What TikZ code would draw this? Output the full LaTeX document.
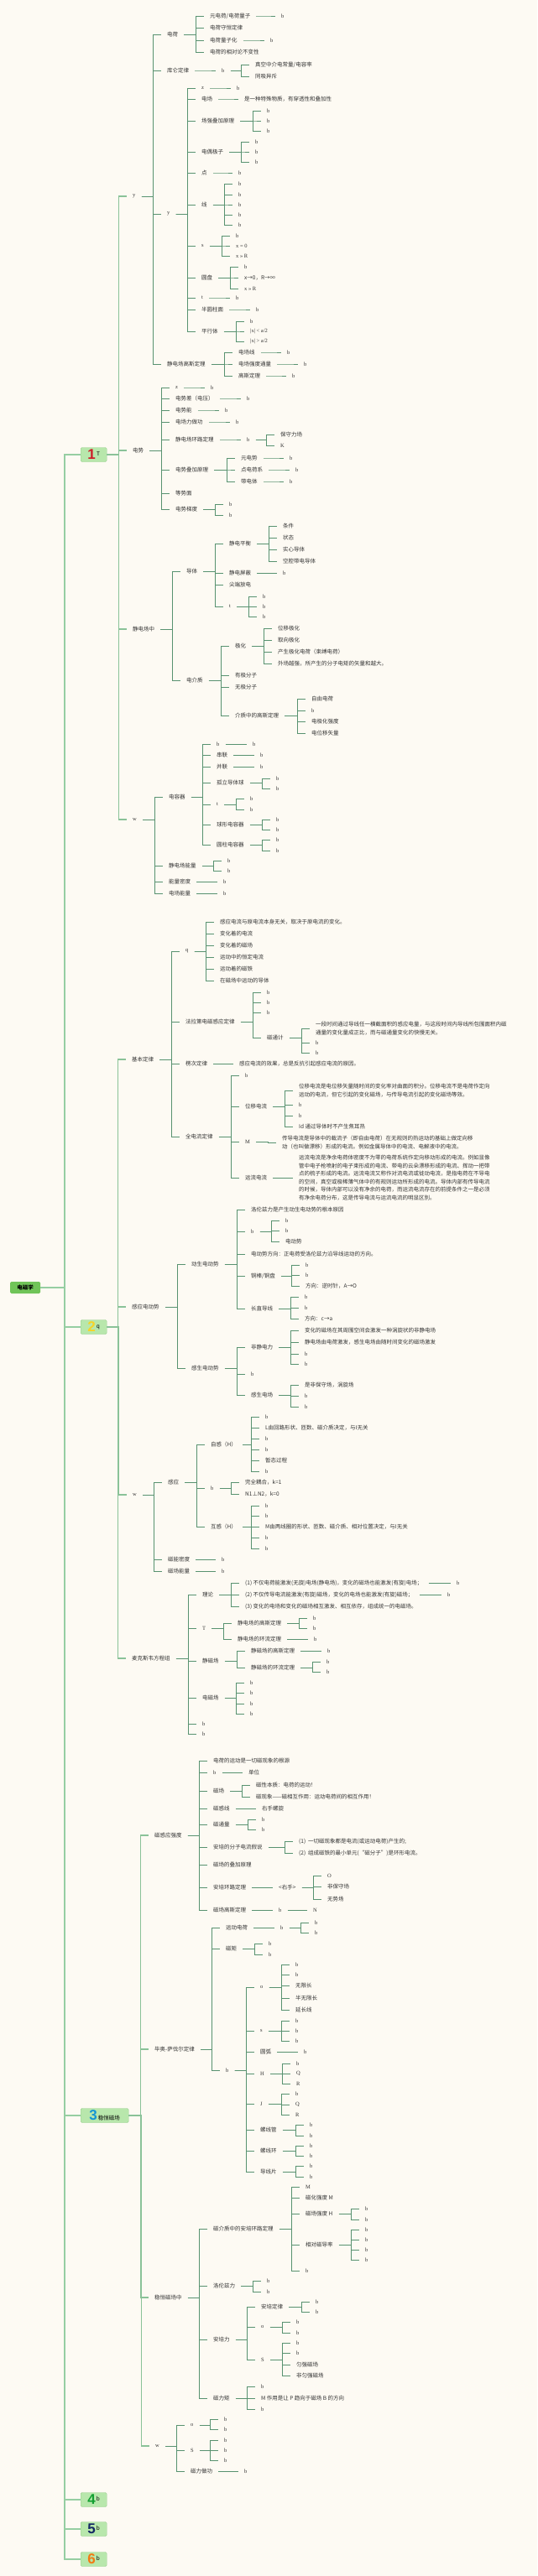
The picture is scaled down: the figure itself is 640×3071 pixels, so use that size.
\documentclass[tikz,border=0pt]{standalone}
\usepackage{fontspec}
\setmainfont{Liberation Serif}
\newfontfamily\cjk{Noto Sans CJK SC}
\newfontfamily\hei{Liberation Sans}
\definecolor{bg}{RGB}{253,250,243}
\definecolor{trunk}{RGB}{150,206,162}
\definecolor{link}{RGB}{88,146,112}
\definecolor{boxfill}{RGB}{184,231,172}
\definecolor{boxline}{RGB}{150,206,140}
\definecolor{rootfill}{RGB}{112,196,88}
\definecolor{red1}{RGB}{205,30,40}
\definecolor{yel}{RGB}{246,212,40}
\definecolor{blu}{RGB}{20,150,212}
\definecolor{grn}{RGB}{20,160,50}
\definecolor{nav}{RGB}{20,40,100}
\definecolor{org}{RGB}{242,122,20}
\tikzset{
  nd/.style={anchor=west, inner xsep=7pt, inner ysep=0.5pt, xshift=-7pt,
    text=black!80, font=\cjk\fontsize{6.5}{9.5}\selectfont},
  lt/.style={nd, font=\fontsize{6.5}{8}\selectfont},
  ml/.style={nd, align=left},
  lk/.style={draw=link, line width=0.9pt},
  lk1/.style={draw=trunk!80!link, line width=1.1pt},
  lk0/.style={draw=trunk, line width=1.5pt},
  chap/.style={anchor=west, fill=boxfill, draw=boxline, rounded corners=1.5pt,
    minimum width=31pt, minimum height=17pt, inner xsep=2pt, inner ysep=0pt,
    font=\cjk\fontsize{6.5}{7}\selectfont},
  root/.style={anchor=west, fill=rootfill, rounded corners=1.5pt, minimum width=36pt,
    minimum height=14pt, inner sep=0pt, font=\cjk\bfseries\fontsize{6.5}{7}\selectfont}
}
% 父节点 #2 连到子节点 #2a, #2b, ...
\newcommand\kids[3][lk]{\foreach \kk in {#3}{\draw[#1] (#2.east) -| ([xshift=-9.5pt]#2\kk.west) -- (#2\kk.west);}}
\newcommand\dg[2]{{\hei\bfseries\fontsize{17}{17}\selectfont\textcolor{#1}{#2}}}
\begin{document}
\begin{tikzpicture}[x=1pt, y=-1pt]
  \fill[bg] (0,0) rectangle (640,3071);
  \useasboundingbox (0,0) rectangle (640,3071);
  % 中心主题与各章
  \node[root] (r) at (12,1535) {电磁学};
  \node[chap] (c1) at (96,542) {\dg{red1}{1}\,\raisebox{4pt}{T}};
  \node[chap] (c2) at (96,1582) {\dg{yel}{2}\,\raisebox{4pt}{q}};
  \node[chap, minimum width=57pt] (c3) at (96,2522) {\dg{blu}{3}\,稳恒磁场};
  \node[chap] (c4) at (96,2980) {\dg{grn}{4}\,\raisebox{4pt}{b}};
  \node[chap] (c5) at (96,3015) {\dg{nav}{5}\,\raisebox{4pt}{b}};
  \node[chap] (c6) at (96,3051) {\dg{org}{6}\,\raisebox{4pt}{b}};
  \foreach \c in {1,...,6}{\draw[lk0] (r.east) -| ([xshift=-19pt]c\c.west) -- (c\c.west);}

  % 第一章
  \node[lt] (c1a) at (158,234) {y};
  \node[nd] (c1b) at (158,537) {电势};
  \node[nd] (c1c) at (158,750) {静电场中};
  \node[lt] (c1d) at (158,977) {w};
  \node[nd] (c1aa) at (199,41) {电荷};
  \node[nd] (c1ab) at (199,84) {库仑定律};
  \node[lt] (c1ac) at (199,255) {y};
  \node[nd] (c1ad) at (199,434) {静电场高斯定理};
  \node[nd] (c1aaa) at (250,19) {元电荷/电荷量子};
  \node[nd] (c1aab) at (250,33) {电荷守恒定律};
  \node[nd] (c1aac) at (250,48) {电荷量子化};
  \node[nd] (c1aad) at (250,62) {电荷的相对论不变性};
  \node[lt] (c1aaaa) at (335,19) {b};
  \node[lt] (c1aaca) at (322,48) {b};
  \node[lt] (c1aba) at (264,84) {b};
  \node[nd] (c1abaa) at (304,77) {真空中介电常量/电容率};
  \node[nd] (c1abab) at (304,91) {同吸异斥};
  \node[lt] (c1aca) at (240,105) {z};
  \node[nd] (c1acb) at (240,118) {电场};
  \node[nd] (c1acc) at (240,144) {场强叠加原理};
  \node[nd] (c1acd) at (240,181) {电偶极子};
  \node[nd] (c1ace) at (240,206) {点};
  \node[nd] (c1acf) at (240,244) {线};
  \node[lt] (c1acg) at (240,293) {s};
  \node[nd] (c1ach) at (240,331) {圆盘};
  \node[lt] (c1aci) at (240,355) {t};
  \node[nd] (c1acj) at (240,369) {半圆柱面};
  \node[nd] (c1ack) at (240,395) {平行体};
  \node[lt] (c1acaa) at (282,105) {b};
  \node[nd] (c1acba) at (291,118) {是一种特殊物质，有穿透性和叠加性};
  \foreach \n/\y in {a/132,b/144,c/156}{\node[lt] (c1acc\n) at (318,\y) {b};}
  \foreach \n/\y in {a/169,b/181,c/193}{\node[lt] (c1acd\n) at (304,\y) {b};}
  \node[lt] (c1acea) at (284,206) {b};
  \foreach \n/\y in {a/219,b/232,c/244,d/256,e/268}{\node[lt] (c1acf\n) at (284,\y) {b};}
  \node[lt] (c1acga) at (281,281) {b};
  \node[lt] (c1acgb) at (281,293) {x = 0};
  \node[lt] (c1acgc) at (281,305) {x >> R};
  \node[lt] (c1acha) at (291,318) {b};
  \node[nd] (c1achb) at (291,331) {x→0，R→∞};
  \node[lt] (c1achc) at (291,344) {x >> R};
  \node[lt] (c1acia) at (281,355) {b};
  \node[lt] (c1acja) at (305,369) {b};
  \node[lt] (c1acka) at (298,383) {b};
  \node[lt] (c1ackb) at (298,395) {|x| < a/2};
  \node[lt] (c1ackc) at (298,407) {|x| > a/2};
  \node[nd] (c1ada) at (284,420) {电场线};
  \node[nd] (c1adb) at (284,434) {电场强度通量};
  \node[nd] (c1adc) at (284,448) {高斯定理};
  \node[lt] (c1adaa) at (342,420) {b};
  \node[lt] (c1adba) at (362,434) {b};
  \node[lt] (c1adca) at (348,448) {b};
  \node[lt] (c1ba) at (209,462) {z};
  \node[nd] (c1bb) at (209,475) {电势差（电压）};
  \node[nd] (c1bc) at (209,489) {电势能};
  \node[nd] (c1bd) at (209,503) {电场力做功};
  \node[nd] (c1be) at (209,524) {静电场环路定理};
  \node[nd] (c1bf) at (209,560) {电势叠加原理};
  \node[nd] (c1bg) at (209,588) {等势面};
  \node[nd] (c1bh) at (209,607) {电势梯度};
  \node[lt] (c1baa) at (251,462) {b};
  \node[lt] (c1bba) at (294,475) {b};
  \node[lt] (c1bca) at (268,489) {b};
  \node[lt] (c1bda) at (281,503) {b};
  \node[lt] (c1bea) at (294,524) {b};
  \node[nd] (c1beaa) at (334,518) {保守力场};
  \node[lt] (c1beab) at (334,531) {K};
  \node[nd] (c1bfa) at (287,546) {元电势};
  \node[nd] (c1bfb) at (287,560) {点电荷系};
  \node[nd] (c1bfc) at (287,574) {带电体};
  \node[lt] (c1bfaa) at (345,546) {b};
  \node[lt] (c1bfba) at (352,560) {b};
  \node[lt] (c1bfca) at (345,574) {b};
  \node[lt] (c1bha) at (273,601) {b};
  \node[lt] (c1bhb) at (273,614) {b};
  \node[nd] (c1ca) at (222,681) {导体};
  \node[nd] (c1cb) at (222,811) {电介质};
  \node[nd] (c1caa) at (273,648) {静电平衡};
  \node[nd] (c1cab) at (273,683) {静电屏蔽};
  \node[nd] (c1cac) at (273,697) {尖端放电};
  \node[lt] (c1cad) at (273,723) {t};
  \node[nd] (c1caaa) at (337,627) {条件};
  \node[nd] (c1caab) at (337,641) {状态};
  \node[nd] (c1caac) at (337,655) {实心导体};
  \node[nd] (c1caad) at (337,669) {空腔带电导体};
  \node[lt] (c1caba) at (337,683) {b};
  \foreach \n/\y in {a/711,b/723,c/735}{\node[lt] (c1cad\n) at (313,\y) {b};}
  \node[nd] (c1cba) at (280,770) {极化};
  \node[nd] (c1cbb) at (280,805) {有极分子};
  \node[nd] (c1cbc) at (280,819) {无极分子};
  \node[nd] (c1cbd) at (280,853) {介质中的高斯定理};
  \node[nd] (c1cbaa) at (331,749) {位移极化};
  \node[nd] (c1cbab) at (331,763) {取向极化};
  \node[nd] (c1cbac) at (331,777) {产生极化电荷（束缚电荷）};
  \node[nd] (c1cbad) at (331,791) {外场越强，所产生的分子电矩的矢量和越大。};
  \node[nd] (c1cbda) at (371,833) {自由电荷};
  \node[lt] (c1cbdb) at (371,847) {b};
  \node[nd] (c1cbdc) at (371,860) {电极化强度};
  \node[nd] (c1cbdd) at (371,874) {电位移矢量};
  \node[nd] (c1da) at (201,950) {电容器};
  \node[nd] (c1db) at (201,1032) {静电场能量};
  \node[nd] (c1dc) at (201,1051) {能量密度};
  \node[nd] (c1dd) at (201,1065) {电场能量};
  \node[lt] (c1daa) at (258,887) {b};
  \node[nd] (c1dab) at (258,900) {串联};
  \node[nd] (c1dac) at (258,914) {并联};
  \node[nd] (c1dad) at (258,933) {孤立导体球};
  \node[lt] (c1dae) at (258,959) {t};
  \node[nd] (c1daf) at (258,983) {球形电容器};
  \node[nd] (c1dag) at (258,1007) {圆柱电容器};
  \node[lt] (c1daaa) at (301,887) {b};
  \node[lt] (c1daba) at (310,900) {b};
  \node[lt] (c1daca) at (310,914) {b};
  \foreach \n/\y in {a/928,b/940}{\node[lt] (c1dad\n) at (329,\y) {b};}
  \foreach \n/\y in {a/952,b/965}{\node[lt] (c1dae\n) at (298,\y) {b};}
  \foreach \n/\y in {a/977,b/989}{\node[lt] (c1daf\n) at (329,\y) {b};}
  \foreach \n/\y in {a/1001,b/1014}{\node[lt] (c1dag\n) at (329,\y) {b};}
  \foreach \n/\y in {a/1026,b/1038}{\node[lt] (c1db\n) at (271,\y) {b};}
  \node[lt] (c1dca) at (266,1051) {b};
  \node[lt] (c1dda) at (266,1065) {b};

  \kids[lk1]{c1}{a,b,c,d}
  \kids{c1a}{a,b,c,d}
  \kids{c1aa}{a,b,c,d} \kids{c1aaa}{a} \kids{c1aac}{a}
  \kids{c1ab}{a} \kids{c1aba}{a,b}
  \kids{c1ac}{a,b,c,d,e,f,g,h,i,j,k}
  \kids{c1aca}{a} \kids{c1acb}{a} \kids{c1acc}{a,b,c} \kids{c1acd}{a,b,c}
  \kids{c1ace}{a} \kids{c1acf}{a,b,c,d,e} \kids{c1acg}{a,b,c} \kids{c1ach}{a,b,c}
  \kids{c1aci}{a} \kids{c1acj}{a} \kids{c1ack}{a,b,c}
  \kids{c1ad}{a,b,c} \kids{c1ada}{a} \kids{c1adb}{a} \kids{c1adc}{a}
  \kids{c1b}{a,b,c,d,e,f,g,h}
  \kids{c1ba}{a} \kids{c1bb}{a} \kids{c1bc}{a} \kids{c1bd}{a} \kids{c1be}{a} \kids{c1bea}{a,b}
  \kids{c1bf}{a,b,c} \kids{c1bfa}{a} \kids{c1bfb}{a} \kids{c1bfc}{a} \kids{c1bh}{a,b}
  \kids{c1c}{a,b} \kids{c1ca}{a,b,c,d} \kids{c1caa}{a,b,c,d} \kids{c1cab}{a} \kids{c1cad}{a,b,c}
  \kids{c1cb}{a,b,c,d} \kids{c1cba}{a,b,c,d} \kids{c1cbd}{a,b,c,d}
  \kids{c1d}{a,b,c,d} \kids{c1da}{a,b,c,d,e,f,g}
  \kids{c1daa}{a} \kids{c1dab}{a} \kids{c1dac}{a} \kids{c1dad}{a,b} \kids{c1dae}{a,b}
  \kids{c1daf}{a,b} \kids{c1dag}{a,b} \kids{c1db}{a,b} \kids{c1dc}{a} \kids{c1dd}{a}

  % 第二章
  \node[nd] (c2a) at (157,1263) {基本定律};
  \node[nd] (c2b) at (157,1558) {感应电动势};
  \node[lt] (c2c) at (158,1782) {w};
  \node[nd] (c2d) at (157,1977) {麦克斯韦方程组};
  \node[lt] (c2aa) at (221,1134) {q};
  \node[nd] (c2ab) at (221,1218) {法拉第电磁感应定律};
  \node[nd] (c2ac) at (221,1268) {楞次定律};
  \node[nd] (c2ad) at (221,1355) {全电流定律};
  \node[nd] (c2aaa) at (262,1099) {感应电流与原电流本身无关，取决于原电流的变化。};
  \node[nd] (c2aab) at (262,1113) {变化着的电流};
  \node[nd] (c2aac) at (262,1127) {变化着的磁场};
  \node[nd] (c2aad) at (262,1141) {运动中的恒定电流};
  \node[nd] (c2aae) at (262,1155) {运动着的磁铁};
  \node[nd] (c2aaf) at (262,1169) {在磁场中运动的导体};
  \foreach \n/\y in {a/1183,b/1195,c/1207}{\node[lt] (c2ab\n) at (318,\y) {b};}
  \node[nd] (c2abd) at (318,1237) {磁通计};
  \node[ml] (c2abda) at (376,1226) {一段时间通过导线任一横截面积的感应电量，与这段时间内导线所包围面积内磁\\通量的变化量成正比，而与磁通量变化的快慢无关。};
  \foreach \n/\y in {b/1243,c/1255}{\node[lt] (c2abd\n) at (376,\y) {b};}
  \node[nd] (c2aca) at (285,1268) {感应电流的效果，总是反抗引起感应电流的原因。};
  \node[lt] (c2ada) at (292,1282) {b};
  \node[nd] (c2adb) at (292,1319) {位移电流};
  \node[lt] (c2adc) at (292,1361) {M};
  \node[nd] (c2add) at (292,1404) {运流电流};
  \node[ml] (c2adba) at (356,1300) {位移电流是电位移矢量随时间的变化率对曲面的积分。位移电流不是电荷作定向\\运动的电流，但它引起的变化磁场，与传导电流引起的变化磁场等效。};
  \foreach \n/\y in {b/1317,c/1330}{\node[lt] (c2adb\n) at (356,\y) {b};}
  \node[nd] (c2adbd) at (356,1343) {Id 通过导体时不产生焦耳热};
  \node[ml] (c2adca) at (336,1362) {传导电流是导体中的载流子（即自由电荷）在无规则的热运动的基础上做定向移\\动（也叫做漂移）形成的电流。例如金属导体中的电流、电解液中的电流。};
  \node[ml] (c2adda) at (356,1404) {运流电流是净余电荷体密度不为零的电荷系统作定向移动形成的电流。例如显像\\管中电子枪喷射的电子束形成的电流、带电的云朵漂移形成的电流、挥动一把带\\点的梳子形成的电流。运流电流又称作对流电流或徙动电流，是指电荷在不导电\\的空间，真空或极稀薄气体中的有规则运动所形成的电流。导体内部有传导电流\\的时候，导体内部可以没有净余的电荷，而运流电流存在的前提条件之一是必须\\有净余电荷分布，这是传导电流与运流电流的明显区别。};
  \node[nd] (c2ba) at (228,1507) {动生电动势};
  \node[nd] (c2bb) at (228,1631) {感生电动势};
  \node[nd] (c2baa) at (299,1442) {洛伦兹力是产生动生电动势的根本原因};
  \node[lt] (c2bab) at (299,1468) {b};
  \node[nd] (c2bac) at (299,1495) {电动势方向：正电荷受洛伦兹力沿导线运动的方向。};
  \node[nd] (c2bad) at (299,1521) {铜棒/铜盘};
  \node[nd] (c2bae) at (299,1560) {长直导线};
  \foreach \n/\y in {a/1455,b/1467}{\node[lt] (c2bab\n) at (340,\y) {b};}
  \node[nd] (c2babc) at (340,1480) {电动势};
  \foreach \n/\y in {a/1508,b/1520}{\node[lt] (c2bad\n) at (364,\y) {b};}
  \node[nd] (c2badc) at (364,1533) {方向：逆时针，A→O};
  \foreach \n/\y in {a/1546,b/1559}{\node[lt] (c2bae\n) at (363,\y) {b};}
  \node[nd] (c2baec) at (363,1572) {方向：c→a};
  \node[nd] (c2bba) at (299,1606) {非静电力};
  \node[lt] (c2bbb) at (299,1638) {b};
  \node[nd] (c2bbc) at (299,1663) {感生电场};
  \node[nd] (c2bbaa) at (363,1586) {变化的磁场在其周围空间会激发一种涡旋状的非静电场};
  \node[nd] (c2bbab) at (363,1600) {静电场由电荷激发，感生电场由随时间变化的磁场激发};
  \foreach \n/\y in {c/1614,d/1626}{\node[lt] (c2bba\n) at (363,\y) {b};}
  \node[nd] (c2bbca) at (363,1651) {是非保守场，涡旋场};
  \foreach \n/\y in {b/1664,c/1677}{\node[lt] (c2bbc\n) at (363,\y) {b};}
  \node[nd] (c2ca) at (200,1767) {感应};
  \node[nd] (c2cb) at (200,1859) {磁能密度};
  \node[nd] (c2cc) at (200,1873) {磁场能量};
  \node[nd] (c2caa) at (251,1722) {自感（H）};
  \node[lt] (c2cab) at (251,1774) {b};
  \node[nd] (c2cac) at (251,1820) {互感（H）};
  \foreach \n/\y in {a/1689,c/1715,d/1728,f/1754}{\node[lt] (c2caa\n) at (316,\y) {b};}
  \node[nd] (c2caab) at (316,1702) {L由回路形状、匝数、磁介质决定，与I无关};
  \node[nd] (c2caae) at (316,1741) {暂态过程};
  \node[nd] (c2caba) at (292,1767) {完全耦合，k=1};
  \node[nd] (c2cabb) at (292,1781) {N1⊥N2，k=0};
  \foreach \n/\y in {a/1795,b/1807,d/1833,e/1846}{\node[lt] (c2cac\n) at (316,\y) {b};}
  \node[nd] (c2cacc) at (316,1820) {M由两线圈的形状、匝数、磁介质、相对位置决定，与I无关};
  \node[lt] (c2cba) at (264,1859) {b};
  \node[lt] (c2cca) at (264,1873) {b};
  \node[nd] (c2da) at (241,1901) {理论};
  \node[lt] (c2db) at (241,1941) {T};
  \node[nd] (c2dc) at (241,1980) {静磁场};
  \node[nd] (c2dd) at (241,2024) {电磁场};
  \foreach \n/\y in {e/2055,f/2067}{\node[lt] (c2d\n) at (241,\y) {b};}
  \node[nd] (c2daa) at (292,1887) {(1) 不仅电荷能激发(无旋)电场(静电场)，变化的磁场也能激发(有旋)电场；};
  \node[nd] (c2dab) at (292,1901) {(2) 不仅传导电流能激发(有旋)磁场，变化的电场也能激发(有旋)磁场；};
  \node[nd] (c2dac) at (292,1915) {(3) 变化的电场和变化的磁场相互激发、相互依存，组成统一的电磁场。};
  \node[lt] (c2daaa) at (544,1887) {b};
  \node[lt] (c2daba) at (533,1901) {b};
  \node[nd] (c2dba) at (283,1935) {静电场的高斯定理};
  \node[nd] (c2dbb) at (283,1954) {静电场的环流定理};
  \foreach \n/\y in {a/1929,b/1941}{\node[lt] (c2dba\n) at (373,\y) {b};}
  \node[lt] (c2dbba) at (374,1954) {b};
  \node[nd] (c2dca) at (299,1968) {静磁场的高斯定理};
  \node[nd] (c2dcb) at (299,1988) {静磁场的环流定理};
  \node[lt] (c2dcaa) at (390,1968) {b};
  \foreach \n/\y in {a/1981,b/1993}{\node[lt] (c2dcb\n) at (389,\y) {b};}
  \foreach \n/\y in {a/2006,b/2018,c/2031,d/2043}{\node[lt] (c2dd\n) at (298,\y) {b};}

  \kids[lk1]{c2}{a,b,c,d}
  \kids{c2a}{a,b,c,d} \kids{c2aa}{a,b,c,d,e,f} \kids{c2ab}{a,b,c,d} \kids{c2abd}{a,b,c}
  \kids{c2ac}{a} \kids{c2ad}{a,b,c,d} \kids{c2adb}{a,b,c,d} \kids{c2adc}{a} \kids{c2add}{a}
  \kids{c2b}{a,b} \kids{c2ba}{a,b,c,d,e} \kids{c2bab}{a,b,c} \kids{c2bad}{a,b,c} \kids{c2bae}{a,b,c}
  \kids{c2bb}{a,b,c} \kids{c2bba}{a,b,c,d} \kids{c2bbc}{a,b,c}
  \kids{c2c}{a,b,c} \kids{c2ca}{a,b,c} \kids{c2caa}{a,b,c,d,e,f} \kids{c2cab}{a,b}
  \kids{c2cac}{a,b,c,d,e} \kids{c2cb}{a} \kids{c2cc}{a}
  \kids{c2d}{a,b,c,d,e,f} \kids{c2da}{a,b,c} \kids{c2daa}{a} \kids{c2dab}{a}
  \kids{c2db}{a,b} \kids{c2dba}{a,b} \kids{c2dbb}{a} \kids{c2dc}{a,b} \kids{c2dca}{a} \kids{c2dcb}{a,b}
  \kids{c2dd}{a,b,c,d}

  % 第三章：稳恒磁场
  \node[nd] (c3a) at (184,2188) {磁感应强度};
  \node[nd] (c3b) at (184,2443) {毕奥-萨伐尔定律};
  \node[nd] (c3c) at (184,2739) {稳恒磁场中};
  \node[lt] (c3d) at (185,2916) {w};
  \node[nd] (c3aa) at (254,2099) {电荷的运动是一切磁现象的根源};
  \node[lt] (c3ab) at (254,2113) {b};
  \node[nd] (c3ac) at (254,2135) {磁场};
  \node[nd] (c3ad) at (254,2156) {磁感线};
  \node[nd] (c3ae) at (254,2175) {磁通量};
  \node[nd] (c3af) at (254,2202) {安培的分子电流假说};
  \node[nd] (c3ag) at (254,2223) {磁场的叠加原理};
  \node[nd] (c3ah) at (254,2250) {安培环路定理};
  \node[nd] (c3ai) at (254,2277) {磁场高斯定理};
  \node[nd] (c3aba) at (296,2113) {单位};
  \node[nd] (c3aca) at (305,2128) {磁性本质：电荷的运动！};
  \node[nd] (c3acb) at (305,2142) {磁现象——磁相互作用：运动电荷间的相互作用！};
  \node[nd] (c3ada) at (312,2156) {右手螺旋};
  \foreach \n/\y in {a/2169,b/2181}{\node[lt] (c3ae\n) at (312,\y) {b};}
  \node[nd] (c3afa) at (356,2195) {(1)\ \ 一切磁现象都是电流(或运动电荷)产生的;};
  \node[nd] (c3afb) at (356,2209) {(2)\ \ 组成磁铁的最小单元(“磁分子”)是环形电流。};
  \node[nd] (c3aha) at (332,2250) {<右手>};
  \node[lt] (c3ahaa) at (390,2236) {O};
  \node[nd] (c3ahab) at (390,2249) {非保守场};
  \node[nd] (c3ahac) at (390,2264) {无势场};
  \node[lt] (c3aia) at (332,2277) {b};
  \node[lt] (c3aiaa) at (373,2277) {N};
  \node[nd] (c3ba) at (269,2298) {运动电荷};
  \node[nd] (c3bb) at (269,2323) {磁矩};
  \node[lt] (c3bc) at (269,2468) {b};
  \node[lt] (c3baa) at (334,2298) {b};
  \foreach \n/\y in {a/2292,b/2304}{\node[lt] (c3baa\n) at (375,\y) {b};}
  \foreach \n/\y in {a/2317,b/2330}{\node[lt] (c3bb\n) at (320,\y) {b};}
  \node[lt] (c3bca) at (310,2369) {o};
  \node[lt] (c3bcb) at (310,2421) {s};
  \node[nd] (c3bcc) at (310,2446) {圆弧};
  \node[lt] (c3bcd) at (310,2472) {H};
  \node[lt] (c3bce) at (310,2508) {J};
  \node[nd] (c3bcf) at (310,2539) {螺线管};
  \node[nd] (c3bcg) at (310,2564) {螺线环};
  \node[nd] (c3bch) at (310,2589) {导线片};
  \foreach \n/\y in {a/2342,b/2354}{\node[lt] (c3bca\n) at (352,\y) {b};}
  \node[nd] (c3bcac) at (352,2367) {无限长};
  \node[nd] (c3bcad) at (352,2382) {半无限长};
  \node[nd] (c3bcae) at (352,2396) {延长线};
  \foreach \n/\y in {a/2409,b/2421,c/2433}{\node[lt] (c3bcb\n) at (352,\y) {b};}
  \node[lt] (c3bcca) at (362,2446) {b};
  \foreach \n/\t/\y in {a/b/2460,b/Q/2472,c/R/2484}{\node[lt] (c3bcd\n) at (353,\y) {\t};}
  \foreach \n/\t/\y in {a/b/2496,b/Q/2509,c/R/2521}{\node[lt] (c3bce\n) at (352,\y) {\t};}
  \foreach \n/\y in {a/2533,b/2546}{\node[lt] (c3bcf\n) at (369,\y) {b};}
  \foreach \n/\y in {a/2558,b/2570}{\node[lt] (c3bcg\n) at (369,\y) {b};}
  \foreach \n/\y in {a/2582,b/2595}{\node[lt] (c3bch\n) at (369,\y) {b};}
  \node[nd] (c3ca) at (254,2657) {磁介质中的安培环路定理};
  \node[nd] (c3cb) at (254,2725) {洛伦兹力};
  \node[nd] (c3cc) at (254,2789) {安培力};
  \node[nd] (c3cd) at (254,2859) {磁力矩};
  \node[lt] (c3caa) at (364,2607) {M};
  \node[nd] (c3cab) at (364,2620) {磁化强度 M};
  \node[nd] (c3cac) at (364,2639) {磁场强度 H};
  \node[nd] (c3cad) at (364,2676) {相对磁导率};
  \node[lt] (c3cae) at (364,2707) {b};
  \foreach \n/\y in {a/2633,b/2646}{\node[lt] (c3cac\n) at (435,\y) {b};}
  \foreach \n/\y in {a/2658,b/2670,c/2682,d/2694}{\node[lt] (c3cad\n) at (435,\y) {b};}
  \foreach \n/\y in {a/2719,b/2732}{\node[lt] (c3cb\n) at (318,\y) {b};}
  \node[nd] (c3cca) at (311,2750) {安培定律};
  \node[lt] (c3ccb) at (311,2774) {o};
  \node[lt] (c3ccc) at (311,2813) {S};
  \foreach \n/\y in {a/2744,b/2756}{\node[lt] (c3cca\n) at (376,\y) {b};}
  \foreach \n/\y in {a/2768,b/2781}{\node[lt] (c3ccb\n) at (353,\y) {b};}
  \foreach \n/\y in {a/2793,b/2805}{\node[lt] (c3ccc\n) at (353,\y) {b};}
  \node[nd] (c3cccc) at (353,2819) {匀强磁场};
  \node[nd] (c3cccd) at (353,2832) {非匀强磁场};
  \node[lt] (c3cda) at (311,2845) {b};
  \node[nd] (c3cdb) at (311,2859) {M 作用是让 P 趋向于磁场 B 的方向};
  \node[lt] (c3cdc) at (311,2872) {b};
  \node[lt] (c3da) at (227,2891) {o};
  \node[lt] (c3db) at (227,2921) {S};
  \node[nd] (c3dc) at (227,2946) {磁力做功};
  \foreach \n/\y in {a/2884,b/2896}{\node[lt] (c3da\n) at (267,\y) {b};}
  \foreach \n/\y in {a/2909,b/2921,c/2933}{\node[lt] (c3db\n) at (267,\y) {b};}
  \node[lt] (c3dca) at (291,2946) {b};

  \kids[lk1]{c3}{a,b,c,d}
  \kids{c3a}{a,b,c,d,e,f,g,h,i} \kids{c3ab}{a} \kids{c3ac}{a,b} \kids{c3ad}{a} \kids{c3ae}{a,b}
  \kids{c3af}{a,b} \kids{c3ah}{a} \kids{c3aha}{a,b,c} \kids{c3ai}{a} \kids{c3aia}{a}
  \kids{c3b}{a,b,c} \kids{c3ba}{a} \kids{c3baa}{a,b} \kids{c3bb}{a,b}
  \kids{c3bc}{a,b,c,d,e,f,g,h} \kids{c3bca}{a,b,c,d,e} \kids{c3bcb}{a,b,c} \kids{c3bcc}{a}
  \kids{c3bcd}{a,b,c} \kids{c3bce}{a,b,c} \kids{c3bcf}{a,b} \kids{c3bcg}{a,b} \kids{c3bch}{a,b}
  \kids{c3c}{a,b,c,d} \kids{c3ca}{a,b,c,d,e} \kids{c3cac}{a,b} \kids{c3cad}{a,b,c,d}
  \kids{c3cb}{a,b} \kids{c3cc}{a,b,c} \kids{c3cca}{a,b} \kids{c3ccb}{a,b} \kids{c3ccc}{a,b,c,d}
  \kids{c3cd}{a,b,c}
  \kids{c3d}{a,b,c} \kids{c3da}{a,b} \kids{c3db}{a,b,c} \kids{c3dc}{a}
\end{tikzpicture}
\end{document}
